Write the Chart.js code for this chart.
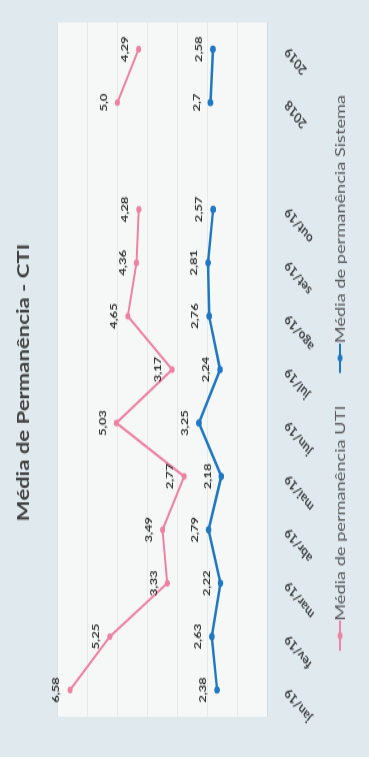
<!DOCTYPE html>
<html>
<head>
<meta charset="utf-8">
<script src="https://cdn.jsdelivr.net/npm/chart.js@4.4.1/dist/chart.umd.min.js"></script>
<style>
  html, body { margin: 0; padding: 0; background: #dfe9ee; }
  body { width: 369px; height: 757px; overflow: hidden; position: relative; }
  #wrap {
    position: absolute; left: 0; top: 0;
    width: 582px; height: 369px;
    transform-origin: 0 0;
    transform: translate(0px, 757px) rotate(-90deg) scale(1.3, 1);
  }
</style>
</head>
<body>
<div id="wrap"><canvas id="c" width="582" height="369"></canvas></div>
<script>
// ---- data ----
const categories = ['jan/19','fev/19','mar/19','abr/19','mai/19','jun/19','jul/19','ago/19','set/19','out/19','','2018','2019'];
const mediaUTI     = [6.58, 5.25, 3.33, 3.49, 2.77, 5.03, 3.17, 4.65, 4.36, 4.28, null, 5.0, 4.29];
const mediaSistema = [2.38, 2.63, 2.22, 2.79, 2.18, 3.25, 2.24, 2.76, 2.81, 2.57, null, 2.7, 2.58];
const labelDecimals = [2, 2, 2, 2, 2, 2, 2, 2, 2, 2, 2, 1, 2];
const seriesNames = ['Média de permanência UTI', 'Média de permanência Sistema'];
const titleText = 'Média de Permanência - CTI';

const PINK = '#ee82a3';
const BLUE = '#1f78c4';
const FONT = 'Lato, "Open Sans", sans-serif';
const LEGEND_BOX = 31;   // legend marker box width
const LEGEND_LINE_START = 15;

function fmt(v, i) {
  return v.toFixed(labelDecimals[i]).replace('.', ',');
}

// legend marker: line with a dot, running up to the text
function legendIcon(color) {
  const c = document.createElement('canvas');
  c.width = LEGEND_BOX + 14; c.height = 8;
  const x = c.getContext('2d');
  const x0 = LEGEND_LINE_START + 7, x1 = c.width;
  x.strokeStyle = color; x.lineWidth = 2;
  x.beginPath(); x.moveTo(x0, 4); x.lineTo(x1, 4); x.stroke();
  x.fillStyle = color;
  x.beginPath(); x.arc((x0 + x1) / 2, 4, 2.6, 0, Math.PI * 2); x.fill();
  return c;
}

const plotBg = {
  id: 'plotBg',
  beforeDraw(chart) {
    const { ctx, chartArea: a } = chart;
    ctx.save();
    ctx.fillStyle = '#f6f8f8';
    ctx.fillRect(a.left, a.top, a.right - a.left, a.bottom - a.top);
    ctx.restore();
  }
};

const valueLabels = {
  id: 'valueLabels',
  afterDatasetsDraw(chart) {
    const ctx = chart.ctx;
    ctx.save();
    ctx.font = 'bold 10px ' + FONT;
    ctx.fillStyle = '#333333';
    ctx.textAlign = 'center';
    ctx.textBaseline = 'bottom';
    chart.data.datasets.forEach((ds, di) => {
      const meta = chart.getDatasetMeta(di);
      meta.data.forEach((pt, i) => {
        const v = ds.data[i];
        if (v === null || v === undefined) return;
        ctx.fillText(fmt(v, i), pt.x, pt.y - 9);
      });
    });
    ctx.restore();
  }
};

new Chart(document.getElementById('c'), {
  type: 'line',
  data: {
    labels: categories,
    datasets: [
      {
        label: seriesNames[0], data: mediaUTI, yAxisID: 'yUTI',
        borderColor: PINK, backgroundColor: PINK, borderWidth: 2,
        pointRadius: 2.6, pointBackgroundColor: PINK, pointBorderWidth: 0,
        spanGaps: false, tension: 0
      },
      {
        label: seriesNames[1], data: mediaSistema, yAxisID: 'ySis',
        borderColor: BLUE, backgroundColor: BLUE, borderWidth: 2.5,
        pointRadius: 2.8, pointBackgroundColor: BLUE, pointBorderWidth: 0,
        spanGaps: false, tension: 0
      }
    ]
  },
  options: {
    responsive: false,
    animation: false,
    devicePixelRatio: 1,
    layout: { padding: { left: 0, right: 6, top: 0, bottom: 12 } },
    plugins: {
      title: {
        display: true, text: titleText, color: '#404040',
        font: { family: FONT, size: 17, weight: 'bold' },
        padding: { top: 13, bottom: 24 }
      },
      legend: {
        display: true, position: 'bottom',
        labels: {
          color: '#595959',
          font: { family: FONT, size: 14 },
          usePointStyle: true,
          pointStyleWidth: LEGEND_BOX,
          padding: 10,
          generateLabels(chart) {
            return chart.data.datasets.map((ds, i) => ({
              text: ds.label, datasetIndex: i,
              pointStyle: legendIcon(ds.borderColor),
              fillStyle: ds.borderColor, strokeStyle: ds.borderColor,
              fontColor: '#595959', lineWidth: 0, hidden: false
            }));
          }
        }
      },
      tooltip: { enabled: false }
    },
    scales: {
      x: {
        offset: true,
        grid: { display: false, drawTicks: false },
        border: { display: false },
        ticks: {
          color: '#404040', padding: 15,
          minRotation: 45, maxRotation: 45, autoSkip: false,
          font: { family: FONT, size: 11, weight: 'bold' }
        },
        afterFit(scale) { scale.height = 56; }
      },
      yUTI: {
        position: 'left', min: 0, max: 7,
        ticks: { display: false, stepSize: 1 },
        grid: { color: 'rgba(0,0,0,0.06)', drawTicks: false },
        border: { display: false },
        afterFit(scale) { scale.width = 31; }
      },
      ySis: {
        position: 'right', min: 0, max: 10,
        ticks: { display: false },
        grid: { display: false, drawTicks: false },
        border: { display: false },
        afterFit(scale) { scale.width = 11; }
      }
    }
  },
  plugins: [plotBg, valueLabels]
});
</script>
</body>
</html>
